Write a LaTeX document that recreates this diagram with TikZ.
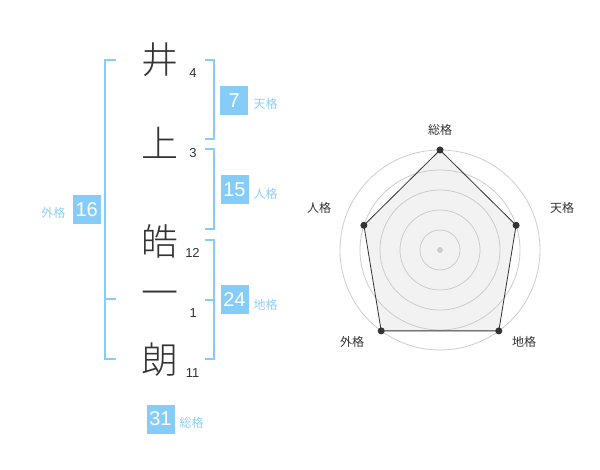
\documentclass[tikz,border=0pt]{standalone}
\usepackage{fontspec}
\setmainfont{Liberation Sans}
\newfontfamily\jp{Noto Sans CJK JP}
\newfontfamily\jpl{Noto Sans CJK JP Light}
\definecolor{sky}{HTML}{85CCF8}
\definecolor{skytxt}{HTML}{8DD0F6}
\definecolor{ink}{HTML}{333333}
\definecolor{ring}{HTML}{CCCCCC}
\definecolor{area}{HTML}{F2F2F2}
\tikzset{
  kanji/.style={inner sep=0pt, text=ink, font=\jpl\fontsize{37}{37}\selectfont},
  strokes/.style={inner sep=0pt, text=ink, font=\fontsize{13}{13}\selectfont},
  numbox/.style={fill=sky, text=white, minimum width=28pt, minimum height=29pt, inner sep=0pt, font=\fontsize{20}{20}\selectfont},
  kaku/.style={inner sep=0pt, text=skytxt, font=\jp\fontsize{12}{12}\selectfont},
  bracket/.style={draw=sky, line width=1.8pt},
  radlabel/.style={inner sep=0pt, text=ink, font=\jp\fontsize{12}{12}\selectfont},
  ringline/.style={draw=ring, line width=0.8pt},
  vdot/.style={circle, fill=ink, inner sep=0pt, minimum size=7pt}
}
\begin{document}
\begin{tikzpicture}[x=1pt,y=-1pt]
\useasboundingbox (0,0) rectangle (600,470);
% name characters
\node[kanji] (c1) at (160,60) {井};
\node[kanji] (c2) at (160,143) {上};
\node[kanji] (c3) at (159.5,241.5) {皓};
\node[kanji] (c4) at (159.5,299) {一};
\node[kanji] (c5) at (159.5,360) {朗};
\node[strokes] (s1) at (193,73.3) {4};
\node[strokes] (s2) at (193,153.3) {3};
\node[strokes] (s3) at (192.5,252.7) {12};
\node[strokes] (s4) at (193.3,313.3) {1};
\node[strokes] (s5) at (192.5,372.7) {11};
% brackets
\draw[bracket] (116,60) -- (105,60) -- (105,359) -- (116,359);
\draw[bracket] (105,299) -- (116,299);
\draw[bracket] (205,60) -- (214,60) -- (214,139) -- (205,139);
\draw[bracket] (205,149) -- (214,149) -- (214,229) -- (205,229);
\draw[bracket] (205,240) -- (214,240) -- (214,359) -- (205,359);
\draw[bracket] (205,300) -- (214,300);
% boxes
\node[numbox] (ten) at (234.3,100.5) {7};
\node[kaku] (tenl) at (265.7,104) {天格};
\node[numbox] (jin) at (234.5,190) {15};
\node[kaku] (jinl) at (265.7,194) {人格};
\node[numbox] (chi) at (234.5,300) {24};
\node[kaku] (chil) at (265.7,304.5) {地格};
\node[numbox] (gai) at (86.7,210) {16};
\node[kaku] (gail) at (53.3,213.3) {外格};
\node[numbox] (sou) at (160.5,419) {31};
\node[kaku] (soul) at (191.7,422.7) {総格};
% radar
\coordinate (o) at (440,250);
\coordinate (p1) at (440,150);
\coordinate (p2) at (516.1,225.3);
\coordinate (p3) at (498.8,330.9);
\coordinate (p4) at (381.2,330.9);
\coordinate (p5) at (363.9,225.3);
\fill[area] (p1) -- (p2) -- (p3) -- (p4) -- (p5) -- cycle;
\foreach \r in {20,40,60,80,100} \draw[ringline] (o) circle[radius=\r];
\draw[ink, line width=0.8pt] (p1) -- (p2) -- (p3) -- (p4) -- (p5) -- cycle;
\node[circle, fill=ring, inner sep=0pt, minimum size=6pt] (oc) at (o) {};
\foreach \p in {p1,p2,p3,p4,p5} \node[vdot] at (\p) {};
\node[radlabel] (l1) at (440,130) {総格};
\node[radlabel] (l2) at (562,208) {天格};
\node[radlabel] (l3) at (524,342) {地格};
\node[radlabel] (l4) at (352,342) {外格};
\node[radlabel] (l5) at (319,208) {人格};
\end{tikzpicture}
\end{document}
